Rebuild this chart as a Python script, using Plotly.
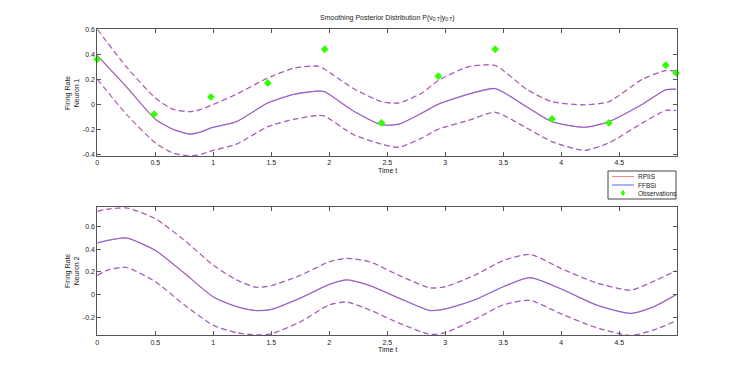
import plotly.graph_objects as go

# ---------------- data ----------------
t1 = [0, 0.25, 0.5, 0.65, 0.8, 0.9, 0.98, 1.2, 1.47, 1.7, 1.9, 1.96, 2.2, 2.45, 2.6,
      2.8, 2.94, 3.2, 3.43, 3.7, 3.92, 4.2, 4.41, 4.7, 4.9, 4.99]
n1_mean = [0.39, 0.14, -0.12, -0.2, -0.24, -0.22, -0.19, -0.14, 0.01, 0.08, 0.105, 0.1,
           -0.05, -0.165, -0.16, -0.07, 0.0, 0.08, 0.125, -0.02, -0.14, -0.185, -0.14,
           0.0, 0.115, 0.12]
n1_upper = [0.6, 0.3, 0.05, -0.04, -0.06, -0.04, -0.01, 0.08, 0.21, 0.29, 0.305, 0.28,
            0.13, 0.02, 0.01, 0.09, 0.19, 0.3, 0.31, 0.12, 0.02, -0.005, 0.02, 0.2,
            0.27, 0.265]
n1_lower = [0.2, -0.08, -0.31, -0.39, -0.415, -0.4, -0.375, -0.32, -0.18, -0.12, -0.09,
            -0.095, -0.24, -0.32, -0.345, -0.27, -0.2, -0.13, -0.065, -0.19, -0.3, -0.37,
            -0.31, -0.15, -0.05, -0.05]

t2 = [0, 0.1, 0.25, 0.5, 0.75, 1.0, 1.2, 1.37, 1.5, 1.75, 2.0, 2.15, 2.35, 2.6, 2.87,
      3.0, 3.25, 3.5, 3.73, 4.0, 4.3, 4.6, 4.8, 4.99]
n2_mean = [0.455, 0.48, 0.5, 0.39, 0.19, -0.02, -0.105, -0.14, -0.13, -0.03, 0.09, 0.13,
           0.08, -0.03, -0.14, -0.126, -0.047, 0.07, 0.15, 0.05, -0.09, -0.165, -0.105, 0.0]
n2_upper = [0.735, 0.755, 0.765, 0.67, 0.48, 0.26, 0.13, 0.065, 0.08, 0.17, 0.29, 0.32,
            0.29, 0.17, 0.06, 0.07, 0.17, 0.3, 0.355, 0.23, 0.105, 0.04, 0.12, 0.21]
n2_lower = [0.17, 0.22, 0.24, 0.115, -0.09, -0.27, -0.335, -0.355, -0.345, -0.24, -0.09,
            -0.065, -0.135, -0.25, -0.35, -0.335, -0.22, -0.09, -0.05, -0.17, -0.29, -0.36,
            -0.31, -0.23]

obs_t = [0, 0.49, 0.98, 1.47, 1.96, 2.45, 2.94, 3.43, 3.92, 4.41, 4.9, 4.99]
obs_y = [0.36, -0.08, 0.058, 0.17, 0.44, -0.15, 0.224, 0.44, -0.118, -0.15, 0.312, 0.25]

x_ticks = [0, 0.5, 1, 1.5, 2, 2.5, 3, 3.5, 4, 4.5]
x_tick_labels = ["0", "0.5", "1", "1.5", "2", "2.5", "3", "3.5", "4", "4.5"]
y1_ticks = [-0.4, -0.2, 0, 0.2, 0.4, 0.6]
y1_tick_labels = ["-0.4", "-0.2", "0", "0.2", "0.4", "0.6"]
y2_ticks = [-0.2, 0, 0.2, 0.4, 0.6]
y2_tick_labels = ["-0.2", "0", "0.2", "0.4", "0.6"]
legend_labels = ["RPIIS", "FFBSi", "Observations"]

# ---------------- style ----------------
RED = "rgba(255,80,80,0.7)"
BLUE = "rgba(95,95,255,1)"
GREEN = "#33ff00"
FONT = "Liberation Sans, Arial, sans-serif"
W, H = 747, 378

fig = go.Figure()

def add_set(tx, mean, up, lo, xa, ya):
    for color, name, wd, dash in ((RED, "RPIIS", 1.3, "6px,3px"),
                                  (BLUE, "FFBSi", 0.9, "5px,4px")):
        fig.add_trace(go.Scatter(x=tx, y=mean, mode="lines", name=name,
                                 line=dict(color=color, width=wd, shape="spline", smoothing=0.6),
                                 xaxis=xa, yaxis=ya, showlegend=False))
        for arr in (up, lo):
            fig.add_trace(go.Scatter(x=tx, y=arr, mode="lines", showlegend=False,
                                     line=dict(color=color, width=wd, dash=dash,
                                               shape="spline", smoothing=0.6),
                                     xaxis=xa, yaxis=ya))

add_set(t1, n1_mean, n1_upper, n1_lower, "x", "y")
fig.add_trace(go.Scatter(x=obs_t, y=obs_y, mode="markers", name="Observations",
                         marker=dict(symbol="diamond", color=GREEN, size=6,
                                     line=dict(width=0)),
                         xaxis="x", yaxis="y", cliponaxis=False, showlegend=False))
add_set(t2, n2_mean, n2_upper, n2_lower, "x2", "y2")

x0, x1 = 97.3 / W, 676.7 / W
axis_common = dict(showgrid=False, zeroline=False, showline=True, linecolor="#555",
                   linewidth=1, mirror="ticks", ticks="inside", ticklen=4,
                   tickcolor="#555", automargin=False,
                   tickfont=dict(size=7, color="#222", family=FONT))

fig.update_layout(
    width=W, height=H, margin=dict(l=0, r=0, t=0, b=0, autoexpand=False),
    paper_bgcolor="white", plot_bgcolor="white",
    font=dict(family=FONT, size=7, color="#222"),
    xaxis=dict(domain=[x0, x1], range=[0, 4.995], tickvals=x_ticks,
               ticktext=x_tick_labels, anchor="y", **axis_common),
    yaxis=dict(domain=[1 - 156 / H, 1 - 29.3 / H], range=[-0.415, 0.6],
               tickvals=y1_ticks, ticktext=y1_tick_labels, anchor="x", **axis_common),
    xaxis2=dict(domain=[x0, x1], range=[0, 4.995], tickvals=x_ticks,
                ticktext=x_tick_labels, anchor="y2", **axis_common),
    yaxis2=dict(domain=[1 - 335.3 / H, 1 - 207.3 / H], range=[-0.358, 0.77],
                tickvals=y2_ticks, ticktext=y2_tick_labels, anchor="x2", **axis_common),
    showlegend=False,
)

# ---- compact MATLAB-style legend (paper coords) ----
def px(x): return x / W
def py(y): return 1 - y / H

fig.add_shape(type="rect", xref="paper", yref="paper", x0=px(608), x1=px(676),
              y0=py(199), y1=py(171), line=dict(color="#444", width=1),
              fillcolor="white", layer="above")
rows_y = [176.5, 185, 193]
for i, (lab, yy) in enumerate(zip(legend_labels, rows_y)):
    if i < 2:
        fig.add_shape(type="line", xref="paper", yref="paper", x0=px(612), x1=px(634),
                      y0=py(yy), y1=py(yy), line=dict(color=[RED, BLUE][i], width=1),
                      layer="above")
    else:
        fig.add_shape(type="path", xref="paper", yref="paper", layer="above",
                      path=f"M {px(623)} {py(yy-3.2)} L {px(625.2)} {py(yy)} "
                           f"L {px(623)} {py(yy+3.2)} L {px(620.8)} {py(yy)} Z",
                      fillcolor=GREEN, line=dict(width=0))
    fig.add_annotation(text=lab, xref="paper", yref="paper", x=px(636), y=py(yy),
                       xanchor="left", yanchor="middle", showarrow=False,
                       font=dict(size=6.5, color="#222"))

ann = [
    dict(text="Smoothing Posterior Distribution P(v<sub>0:T</sub>|y<sub>0:T</sub>)",
         x=387 / W, y=1 - 18 / H),
    dict(text="Firing Rate<br>Neuron 1", x=72 / W, y=1 - 93 / H, textangle=-90),
    dict(text="Firing Rate<br>Neuron 2", x=72 / W, y=1 - 271 / H, textangle=-90),
    dict(text="Time t", x=387 / W, y=1 - 170 / H),
    dict(text="Time t", x=387 / W, y=1 - 349 / H),
]
for a in ann:
    fig.add_annotation(xref="paper", yref="paper", showarrow=False,
                       xanchor="center", yanchor="middle", font=dict(size=7), **a)

fig.write_html("out.html", config={"displayModeBar": False},
               post_script="document.body.style.margin='0';document.body.style.overflow='hidden';")
